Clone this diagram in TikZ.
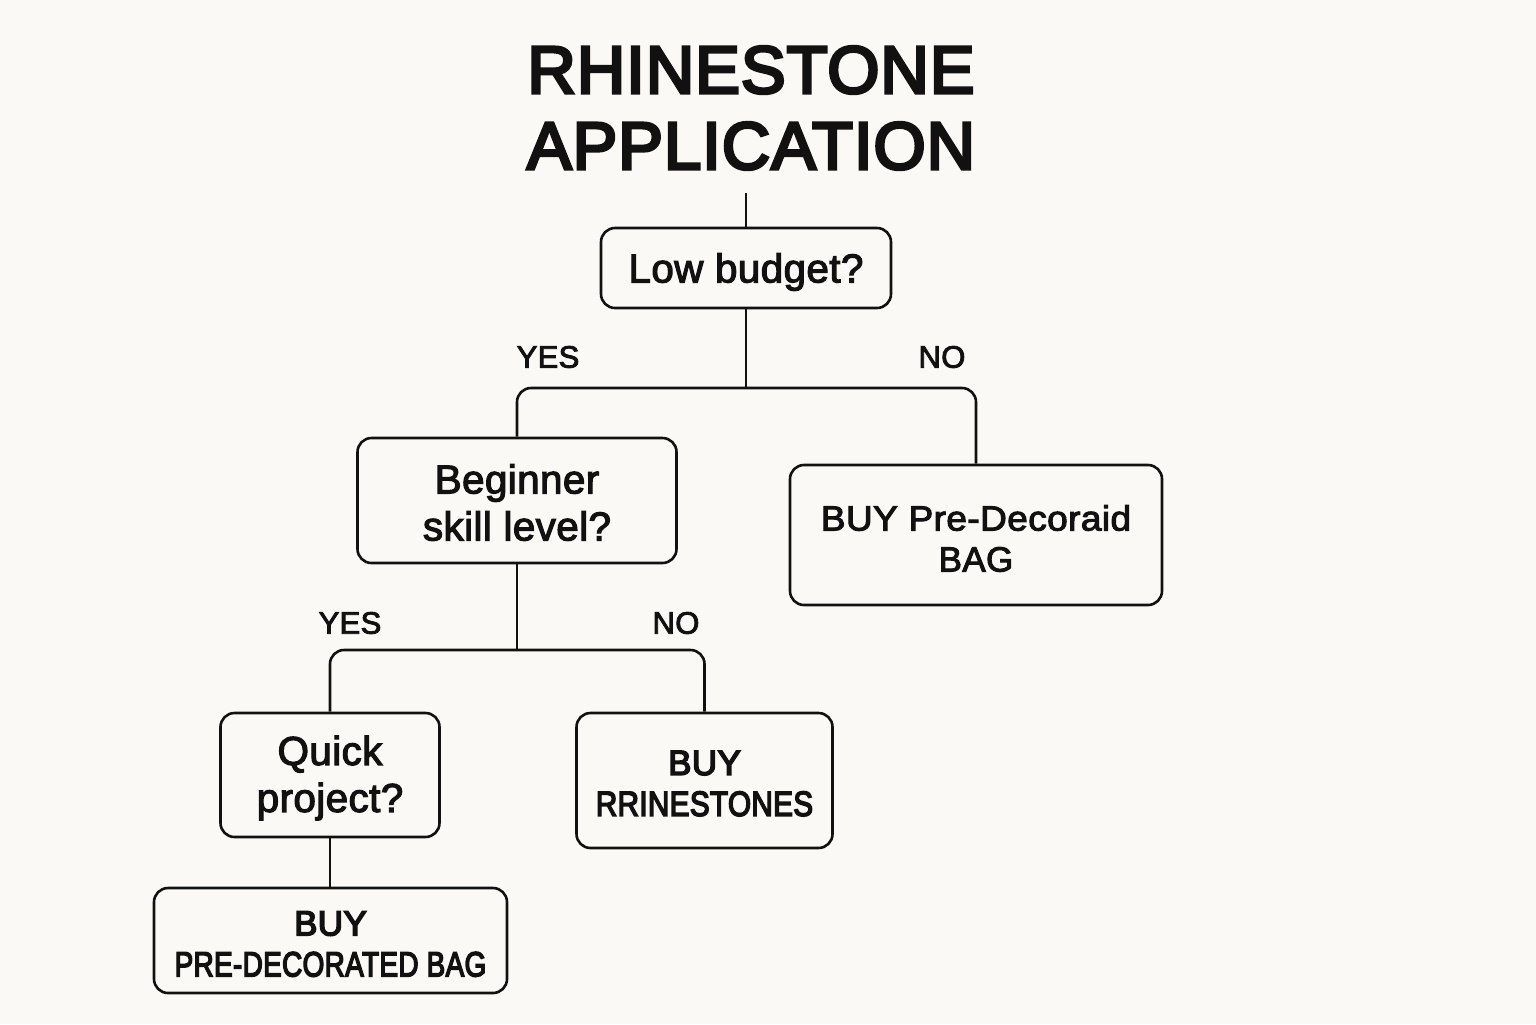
\documentclass[tikz,border=0pt]{standalone}
\usepackage{fontspec}
\setmainfont{Liberation Sans}
\newfontfamily\titlefnt[RawFeature={embolden=4.5}, LetterSpace=1.5]{Liberation Sans}
\newfontfamily\medfnt[RawFeature={embolden=2.8}, LetterSpace=1.0]{Liberation Sans}
\newfontfamily\heavyfnt[RawFeature={embolden=4.5}, LetterSpace=1.0]{Liberation Sans}
\definecolor{bg}{HTML}{FAF9F5}
\definecolor{ink}{HTML}{111111}
\begin{document}
\begin{tikzpicture}[x=0.5pt,y=-0.5pt,
  conn/.style={draw=ink, line width=1.3pt, rounded corners=7pt},
  box/.style={draw=ink, line width=1.3pt, rounded corners=7pt, fill=bg, inner sep=0pt},
  txt/.style={align=center, inner sep=0pt, text=ink},
  qfont/.style={font=\medfnt\fontsize{20.2}{23.5}\selectfont},
  rfont/.style={font=\medfnt\fontsize{17.5}{20.5}\selectfont},
  hfont/.style={font=\heavyfnt\fontsize{17.5}{20.5}\selectfont},
  lab/.style={font=\medfnt\fontsize{15.5}{18}\selectfont, text=ink, inner sep=0pt},
  titlefont/.style={font=\titlefnt\fontsize{33.5}{38}\selectfont, text=ink, align=center, inner sep=0pt}]
\fill[bg] (0,0) rectangle (1536,1024);
\useasboundingbox (0,0) rectangle (1536,1024);

\node[titlefont] (title) at (751,108) {RHINESTONE\\APPLICATION};
\coordinate (top) at (746,193);

\node[box, minimum width=145pt, minimum height=40pt] (q1) at (746,268) {};
\node[txt, qfont] (q1t) at ([shift={(0,4)}]q1.center) {Low budget?};

\node[box, minimum width=159.5pt, minimum height=62.5pt] (q2) at (517,500.5) {};
\node[txt, qfont] (q2t) at ([shift={(0,2)}]q2.center) {Beginner\\skill level?};

\node[box, minimum width=186pt, minimum height=70pt] (r1) at (976,535) {};
\node[txt, rfont] (r1t) at ([shift={(0,3.5)}]r1.center) {\scalebox{1.06}[1]{BUY Pre-Decoraid}\\BAG};

\node[box, minimum width=109.5pt, minimum height=62pt] (q3) at (330,775) {};
\node[txt, qfont] (q3t) at ([shift={(0,3)}]q3.center) {Quick\\project?};

\node[box, minimum width=128pt, minimum height=67.5pt] (r2) at (704.5,780.5) {};
\node[txt, hfont] (r2t) at ([shift={(0,3)}]r2.center) {BUY\\\scalebox{0.85}[1]{RRINESTONES}};

\node[box, minimum width=176.5pt, minimum height=52.5pt] (r3) at (330.5,940.5) {};
\node[txt, hfont] (r3t) at ([shift={(0,3.5)}]r3.center) {BUY\\\scalebox{0.8}[1]{PRE-DECORATED BAG}};

\coordinate (s1) at (746,388);
\coordinate (s2) at (517,650);

\draw[conn] (top) -- (q1.north);
\draw[conn] (q1.south) -- (s1);
\draw[conn] (s1) -| (q2.north);
\draw[conn] (s1) -| (r1.north);
\draw[conn] (q2.south) -- (s2);
\draw[conn] (s2) -| (q3.north);
\draw[conn] (s2) -| (r2.north);
\draw[conn] (q3.south) -- (q3.south |- r3.north);

\node[lab] (y1) at (548,357) {YES};
\node[lab] (n1) at (942,357) {NO};
\node[lab] (y2) at (350,623) {YES};
\node[lab] (n2) at (676,623) {NO};
\end{tikzpicture}
\end{document}
